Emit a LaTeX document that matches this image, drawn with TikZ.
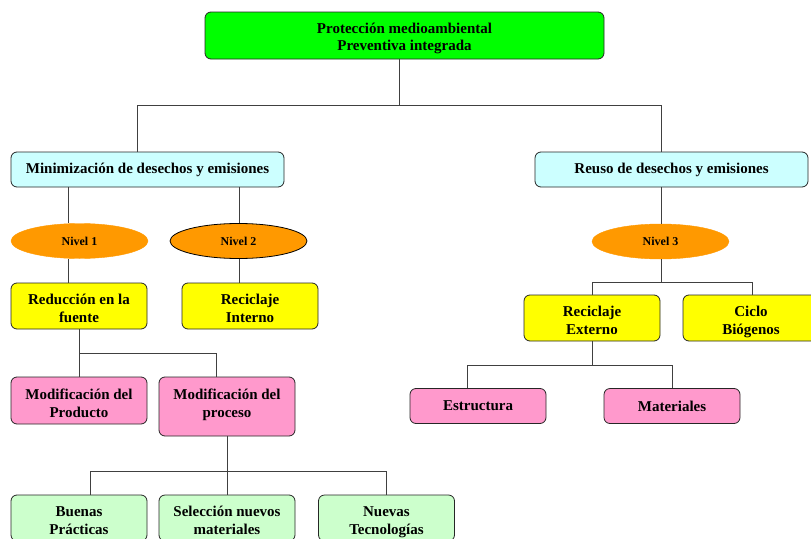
\documentclass[tikz,border=0pt]{standalone}
\usepackage{fontspec}
\setmainfont{Liberation Serif}
\usetikzlibrary{shapes.geometric}
\definecolor{cgreen}{HTML}{00FF00}
\definecolor{ccyan}{HTML}{CCFFFF}
\definecolor{corange}{HTML}{FF9900}
\definecolor{cyellow}{HTML}{FFFF00}
\definecolor{cpink}{HTML}{FF99CC}
\definecolor{clgreen}{HTML}{CCFFCC}
\newcommand\bxa[1]{\rule{0pt}{#1}}
\newcommand\bxb[1]{\rule[-#1]{0pt}{#1}}
\newcommand\twol[2]{\bxa{19pt}#1\\#2\bxb{4pt}}
\begin{document}
\begin{tikzpicture}[x=1pt,y=-1pt,
  box/.style={draw=black!85, line width=0.8pt, rounded corners=6pt, align=center,
    font=\bfseries\fontsize{15}{18}\selectfont, inner sep=0pt},
  lvl/.style={ellipse, fill=corange, minimum width=137pt, minimum height=35pt, inner sep=0pt,
    font=\bfseries\fontsize{12}{14}\selectfont},
  conn/.style={draw=black!75, line width=0.8pt}]
\useasboundingbox (0,0) rectangle (811,538);
\clip (0,0) rectangle (811,538);
\fill[white] (0,0) rectangle (811,538);

\node[box, fill=cgreen, minimum width=399pt, minimum height=47pt, font=\bfseries\fontsize{15}{17}\selectfont] (top) at (404.5,35.5) {\bxa{18pt}Protección medioambiental\\Preventiva integrada\bxb{5pt}};
\node[box, fill=ccyan, minimum width=273pt, minimum height=35pt] (min) at (147.5,169.5) {Minimización de desechos y emisiones};
\node[box, fill=ccyan, minimum width=273pt, minimum height=35pt] (reuso) at (671.5,169.5) {Reuso de desechos y emisiones};

\node[lvl, draw=corange] (n1) at (79.5,241) {Nivel 1};
\node[lvl, draw=black, line width=0.8pt] (n2) at (238.5,241) {Nivel 2};
\node[lvl, draw=corange] (n3) at (660.5,241.5) {Nivel 3};

\node[box, fill=cyellow, minimum width=136pt, minimum height=46pt] (red) at (79,306) {\twol{Reducción en la}{fuente}};
\node[box, fill=cyellow, minimum width=136pt, minimum height=46pt] (rint) at (250,306) {\twol{Reciclaje}{Interno}};
\node[box, fill=cyellow, minimum width=136pt, minimum height=46pt] (rext) at (592,318) {\twol{Reciclaje}{Externo}};
\node[box, fill=cyellow, minimum width=136pt, minimum height=46pt] (ciclo) at (751,318) {\twol{Ciclo}{Biógenos}};

\node[box, fill=cpink, minimum width=136pt, minimum height=47pt] (mprod) at (79,400.5) {\twol{Modificación del}{Producto}};
\node[box, fill=cpink, minimum width=136pt, minimum height=59pt] (mproc) at (227,406.5) {\bxa{18pt}Modificación del\\proceso\bxb{14pt}};
\node[box, fill=cpink, minimum width=136pt, minimum height=35pt] (estr) at (478,406) {Estructura};
\node[box, fill=cpink, minimum width=136pt, minimum height=35pt] (mat) at (672,406) {Materiales};

\node[box, fill=clgreen, minimum width=136pt, minimum height=46pt] (buenas) at (79,518) {\twol{Buenas}{Prácticas}};
\node[box, fill=clgreen, minimum width=136pt, minimum height=46pt] (sel) at (227,518) {\twol{Selección nuevos}{materiales}};
\node[box, fill=clgreen, minimum width=136pt, minimum height=46pt] (nuevas) at (386.5,518) {\twol{Nuevas}{Tecnologías}};

% connectors
\draw[conn] ([xshift=-5.5pt]top.south) -- ++(0,46) coordinate (b1);
\draw[conn] ([xshift=-10.5pt]min.north) |- (b1) -| ([xshift=-10.5pt]reuso.north);
\draw[conn] ([xshift=-79.5pt]min.south) -- ([xshift=-79.5pt]min.south |- n1.north);
\draw[conn] ([xshift=91.5pt]min.south) -- ([xshift=91.5pt]min.south |- n2.north);
\draw[conn] ([xshift=-11pt]red.north) -- ([xshift=-11pt]red.north |- n1.south);
\draw[conn] ([xshift=-11pt]rint.north) -- ([xshift=-11pt]rint.north |- n2.south);
\draw[conn] (red.south) -- ++(0,24) coordinate (b2);
\draw[conn] (mprod.north) |- (b2) -| ([xshift=-11pt]mproc.north);
\draw[conn] (mproc.south) -- ++(0,35) coordinate (b3);
\draw[conn] ([xshift=11pt]buenas.north) |- (b3) -| (nuevas.north);
\draw[conn] (b3) -- (sel.north);
\draw[conn] ([xshift=-10.5pt]reuso.south) -- ([xshift=-10.5pt]reuso.south |- n3.north);
\draw[conn] ([xshift=0.5pt]n3.south) -- ++(0,23.5) coordinate (b4);
\draw[conn] (rext.north) |- (b4) -| ([xshift=1pt]ciclo.north);
\draw[conn] (rext.south) -- ++(0,24) coordinate (b5);
\draw[conn] ([xshift=-11pt]estr.north) |- (b5) -| (mat.north);
\end{tikzpicture}
\end{document}
